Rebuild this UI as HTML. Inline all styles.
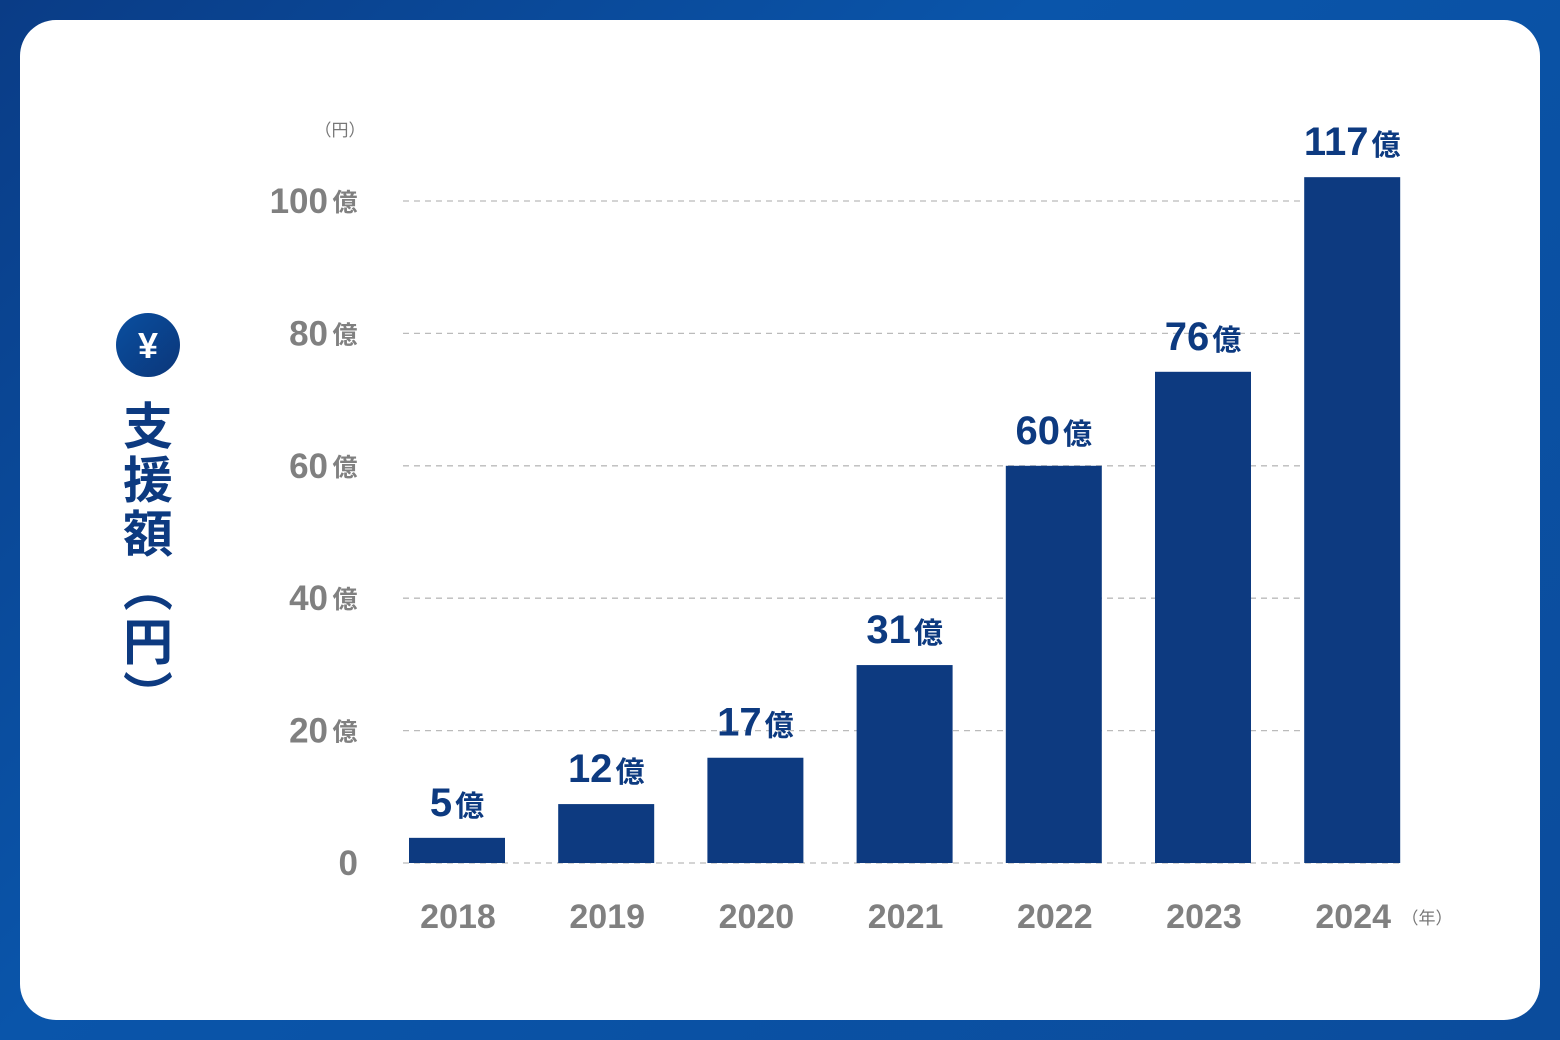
<!DOCTYPE html>
<html><head><meta charset="utf-8"><style>
html,body{margin:0;padding:0}
body{width:1560px;height:1040px;background:linear-gradient(135deg,#0a3c86,#0a55aa 40%,#0b4c9c 100%);position:relative;overflow:hidden;font-family:"Liberation Sans","Noto Sans CJK JP",sans-serif}
#card{position:absolute;left:20px;top:20px;width:1520px;height:1000px;background:#fff;border-radius:36px}
svg{position:absolute;left:0;top:0}
</style></head><body>
<div id="card"></div>
<svg id="chart" width="1560" height="1040">
<defs><linearGradient id="yg" x1="0" y1="0" x2="1" y2="1"><stop offset="0" stop-color="#0a4fa0"/><stop offset="1" stop-color="#0b3679"/></linearGradient></defs>
<circle cx="148" cy="345" r="32" fill="url(#yg)"/>
<text x="148" y="358" text-anchor="middle" font-size="36" font-weight="bold" fill="#fff">¥</text>
<text x="148" y="400" font-size="50" font-weight="bold" fill="#0d3a80" letter-spacing="4" style="writing-mode:vertical-rl;font-family:'Noto Sans CJK JP',sans-serif">支援額（円）</text>
<text x="340" y="136" text-anchor="middle" font-size="17" fill="#777" style="font-family:'Noto Sans CJK JP',sans-serif">（円）</text>
<text x="1427" y="924" text-anchor="middle" font-size="17" fill="#777" style="font-family:'Noto Sans CJK JP',sans-serif">（年）</text>
<g id="grid"></g><g id="bars"></g><g id="labels"></g>
</svg>
<script>
const categories=["2018","2019","2020","2021","2022","2023","2024"];
const barValues=[3.8,8.9,15.9,29.9,60,74.2,103.6];
const valueLabels=["5","12","17","31","60","76","117"];
const yTicks=[0,20,40,60,80,100];
const yTickLabels=["0","20","40","60","80","100"];
const NS="http://www.w3.org/2000/svg";
const y0=863,y100=201,xL=403,xR=1404,x0=457,step=149.2,bw=96;
function yS(v){return y0-(y0-y100)*v/100;}
function xS(i){return x0+i*step;}
function mk(t,a,p){const e=document.createElementNS(NS,t);for(const k in a)e.setAttribute(k,a[k]);p.appendChild(e);return e;}
const grid=document.getElementById('grid'),bars=document.getElementById('bars'),labels=document.getElementById('labels');
yTicks.forEach((v,i)=>{
 const l=mk('line',{x1:xL,x2:xR,y1:yS(v),y2:yS(v),stroke:'#bbb','stroke-width':1.3,'stroke-dasharray':'6 5'},grid);
 
 
 const t=mk('text',{x:v===0?358:328,y:yS(v)+12,'text-anchor':'end','font-size':35,'font-weight':'bold',fill:'#808080'},grid);
 t.textContent=yTickLabels[i];
 
 
 if(v!==0){const k=mk('text',{x:345,y:yS(v)+10,'text-anchor':'middle','font-size':25,'font-weight':'bold',fill:'#808080',style:"font-family:'Noto Sans CJK JP',sans-serif"},grid);k.textContent='億';
 
 }
});
categories.forEach((c,i)=>{
 const cx=xS(i),top=yS(barValues[i]);
 const r=mk('rect',{x:cx-bw/2,y:top,width:bw,height:y0-top,fill:'#0d3a80'},bars);
 
 
 const xt=mk('text',{x:cx+1,y:928,'text-anchor':'middle','font-size':34,'font-weight':'bold',fill:'#808080'},labels);
 xt.textContent=c;
 
 
 const g=mk('text',{x:cx,y:top-22,'text-anchor':'middle',fill:'#0d3a80','font-weight':'bold'},labels);
 
 
 const n=mk('tspan',{'font-size':40},g);n.textContent=valueLabels[i];
 const u=mk('tspan',{'font-size':29,dx:3,style:"font-family:'Noto Sans CJK JP',sans-serif"},g);u.textContent='億';
});
</script>
</body></html>
